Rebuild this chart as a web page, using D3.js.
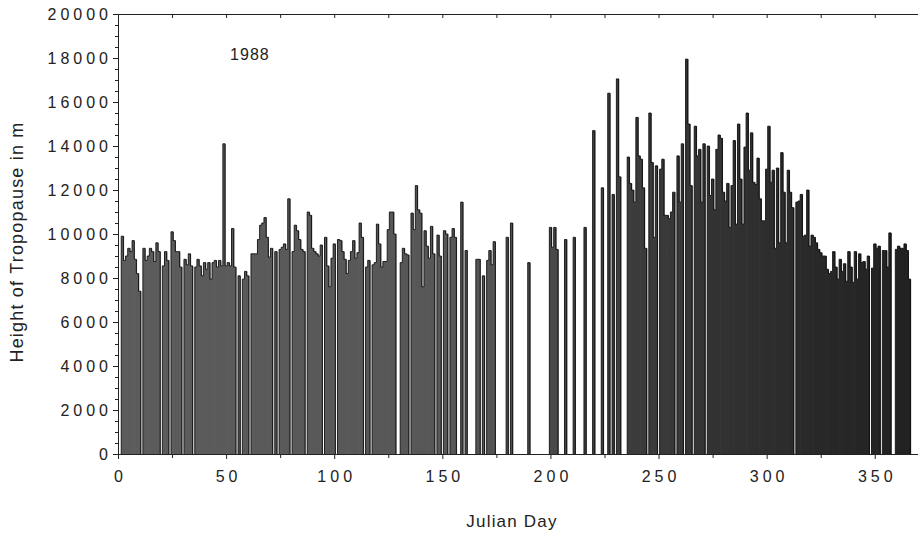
<!DOCTYPE html>
<html><head><meta charset="utf-8">
<script src="https://cdn.jsdelivr.net/npm/d3@7"></script>
<style>
body{margin:0;background:#fff}
text{font-family:"Liberation Sans",Arial,Helvetica,sans-serif;fill:#222}
</style>
</head><body>
<svg id="chart" width="918" height="535"></svg>
<script>
// ---- data ----
const yearLabel = "1988";
const xTickValues = [0, 50, 100, 150, 200, 250, 300, 350];
const xMinorTicks = [25, 75, 125, 175, 225, 275, 325];
const yTickValues = [0, 2000, 4000, 6000, 8000, 10000, 12000, 14000, 16000, 18000, 20000];
const yMinorTicks = d3.range(500, 20000, 500).filter(v => v % 2000 !== 0);
// tropopause height (m) for Julian day = index; 0 = no sounding
const tropopauseHeight = [
  0,0,9900,8800,9000,9350,9200,9700,8850,8200,
  7400,0,9350,8800,9000,9350,9200,8750,9600,9200,
  0,8550,9200,8800,0,10100,9700,9200,9200,8500,
  0,8850,8600,9100,8550,0,8500,8850,8550,8100,
  8700,8400,8700,7950,8700,8800,8500,8800,8550,14100,
  8550,8700,8550,10250,8500,0,8100,0,7950,8300,
  8100,0,9100,9100,9100,9750,10400,10500,10750,9850,
  8950,9350,0,9200,0,9300,9400,9550,9300,11600,
  0,9200,10400,10150,9750,9300,9200,0,11000,10850,
  9350,9200,9100,9000,9500,0,9850,8550,7600,8900,
  9550,0,9750,9700,9200,8850,8200,8800,9200,9700,
  8900,9150,10500,9850,0,8500,8800,0,8600,8700,
  10450,9550,8500,8750,8750,10200,11000,11000,10000,0,
  0,8700,9350,9100,9050,0,10950,10200,12200,11100,
  10950,7600,10150,9450,8900,10350,9100,0,9950,9000,
  0,10150,10000,0,9850,10250,9850,0,0,11450,
  0,9250,0,0,0,0,8850,8850,0,8100,
  0,8800,9250,8600,9650,0,0,0,0,0,
  9850,0,10500,0,0,0,0,0,0,0,
  8700,0,0,0,0,0,0,0,0,0,
  10300,9400,10300,9300,0,0,0,9750,0,0,
  0,9850,0,0,0,0,10300,0,0,0,
  14700,0,0,0,12100,0,0,16400,0,11800,
  0,17050,12600,0,0,0,13500,12300,12000,11450,
  15300,13550,13400,12100,9350,0,15500,13250,9850,13100,
  0,12950,13400,10850,10850,10700,11000,11900,0,13550,
  11450,14100,0,17950,15000,12200,0,14900,13550,13850,
  11450,14100,0,14000,11750,12500,11100,13850,14500,14350,
  11900,11500,12300,10300,12200,14250,10450,15000,12500,10450,
  13950,15500,12900,14600,12350,12250,13450,11600,10600,10600,
  12950,14900,12350,12900,9350,13000,9600,13700,11900,9600,
  12900,11900,11200,0,11450,11500,11800,9900,9950,12000,
  9450,9950,9850,9600,9300,9150,9000,9000,8400,8200,
  8300,9200,8500,7950,8850,8300,8650,7850,9200,8500,
  7800,9200,7950,9100,8700,8750,8400,9000,0,8450,
  9550,9350,9450,0,9250,9250,8500,10050,0,0,
  9300,9450,9350,9350,9550,9250,7950,0
];
const data = tropopauseHeight.map((v, i) => ({day: i, h: v})).filter(d => d.h > 0);

// ---- layout ----
const svg = d3.select("#chart");
const m = {left: 118, top: 14, right: 0, bottom: 81};
const W = 918, H = 535;
const x = d3.scaleLinear().domain([0, 370]).range([m.left, W - m.right]);
const y = d3.scaleLinear().domain([0, 20000]).range([H - m.bottom, m.top]);

// gradient of the dithered grey fill
const defs = svg.append("defs");
const grad = defs.append("linearGradient").attr("id", "barFill")
  .attr("gradientUnits", "userSpaceOnUse")
  .attr("x1", x(0)).attr("x2", x(370)).attr("y1", 0).attr("y2", 0);
[[0, "#5c5c5c"], [0.45, "#565656"], [0.62, "#3e3e3e"], [0.8, "#2e2e2e"], [1, "#202020"]]
  .forEach(([o, c]) => grad.append("stop").attr("offset", o).attr("stop-color", c));

// bars (slightly overlapping so that neighbouring days merge into one block)
svg.append("g").selectAll("rect").data(data).join("rect")
  .attr("x", d => x(d.day - 0.5))
  .attr("width", d => x(d.day + 0.5) - x(d.day - 0.5) + 0.7)
  .attr("y", d => y(d.h))
  .attr("height", d => y(0) - y(d.h))
  .attr("fill", "url(#barFill)");

// outline of each contiguous run of bars
const runs = [];
let cur = null;
tropopauseHeight.forEach((v, i) => {
  if (v > 0) { if (!cur) { cur = []; runs.push(cur); } cur.push({day: i, h: v}); }
  else cur = null;
});
const line = d3.line().x(p => x(p[0])).y(p => y(p[1]));
runs.forEach(r => {
  const pts = [[r[0].day - 0.5, 0]];
  r.forEach(d => { pts.push([d.day - 0.5, d.h]); pts.push([d.day + 0.5, d.h]); });
  pts.push([r[r.length - 1].day + 0.5, 0]);
  svg.append("path").attr("d", line(pts)).attr("fill", "none")
    .attr("stroke", "#111").attr("stroke-width", 0.9);
});

// ---- axes ----
const axisStyle = g => {
  g.selectAll("path.domain").attr("stroke", "#222").attr("stroke-width", 1);
  g.selectAll(".tick line").attr("stroke", "#222");
};
const fmt = d3.format("d");

// bottom axis
const gx = svg.append("g").attr("transform", `translate(0,${y(0)})`)
  .call(d3.axisBottom(x).tickValues(xTickValues).tickSize(5).tickSizeOuter(0).tickPadding(12).tickFormat(fmt))
  .call(axisStyle);
gx.selectAll("text").attr("font-size", 16).attr("letter-spacing", "4px").attr("dx", "2px").attr("fill", "#222");
svg.append("g").attr("transform", `translate(0,${y(0)})`)
  .call(d3.axisBottom(x).tickValues(xMinorTicks).tickSize(4).tickFormat(""))
  .call(g => g.select(".domain").remove()).call(axisStyle);

// top axis (frame)
svg.append("g").attr("transform", `translate(0,${y(20000)})`)
  .call(d3.axisTop(x).tickValues(xTickValues.concat(xMinorTicks)).tickSize(-4).tickSizeOuter(0).tickFormat(""))
  .call(axisStyle);

// left axis
const gy = svg.append("g").attr("transform", `translate(${x(0)},0)`)
  .call(d3.axisLeft(y).tickValues(yTickValues).tickSize(5).tickSizeOuter(0).tickPadding(3).tickFormat(fmt))
  .call(axisStyle);
gy.selectAll("text").attr("font-size", 16).attr("letter-spacing", "4px").attr("dx", "2px").attr("fill", "#222");
svg.append("g").attr("transform", `translate(${x(0)},0)`)
  .call(d3.axisLeft(y).tickValues(yMinorTicks).tickSize(3).tickFormat(""))
  .call(g => g.select(".domain").remove()).call(axisStyle);

// titles
svg.append("text").attr("x", (x(0) + W) / 2 - 6).attr("y", 527)
  .attr("text-anchor", "middle").attr("font-size", 17).attr("letter-spacing", "1.2px")
  .text("Julian Day");
svg.append("text").attr("transform", `translate(23,${(y(0) + y(20000)) / 2 + 8}) rotate(-90)`)
  .attr("text-anchor", "middle").attr("font-size", 18).attr("letter-spacing", "1.2px")
  .text("Height of Tropopause in m");
svg.append("text").attr("x", x(61)).attr("y", y(17900))
  .attr("text-anchor", "middle").attr("font-size", 16).attr("letter-spacing", "1px")
  .text(yearLabel);
</script>
</body></html>
